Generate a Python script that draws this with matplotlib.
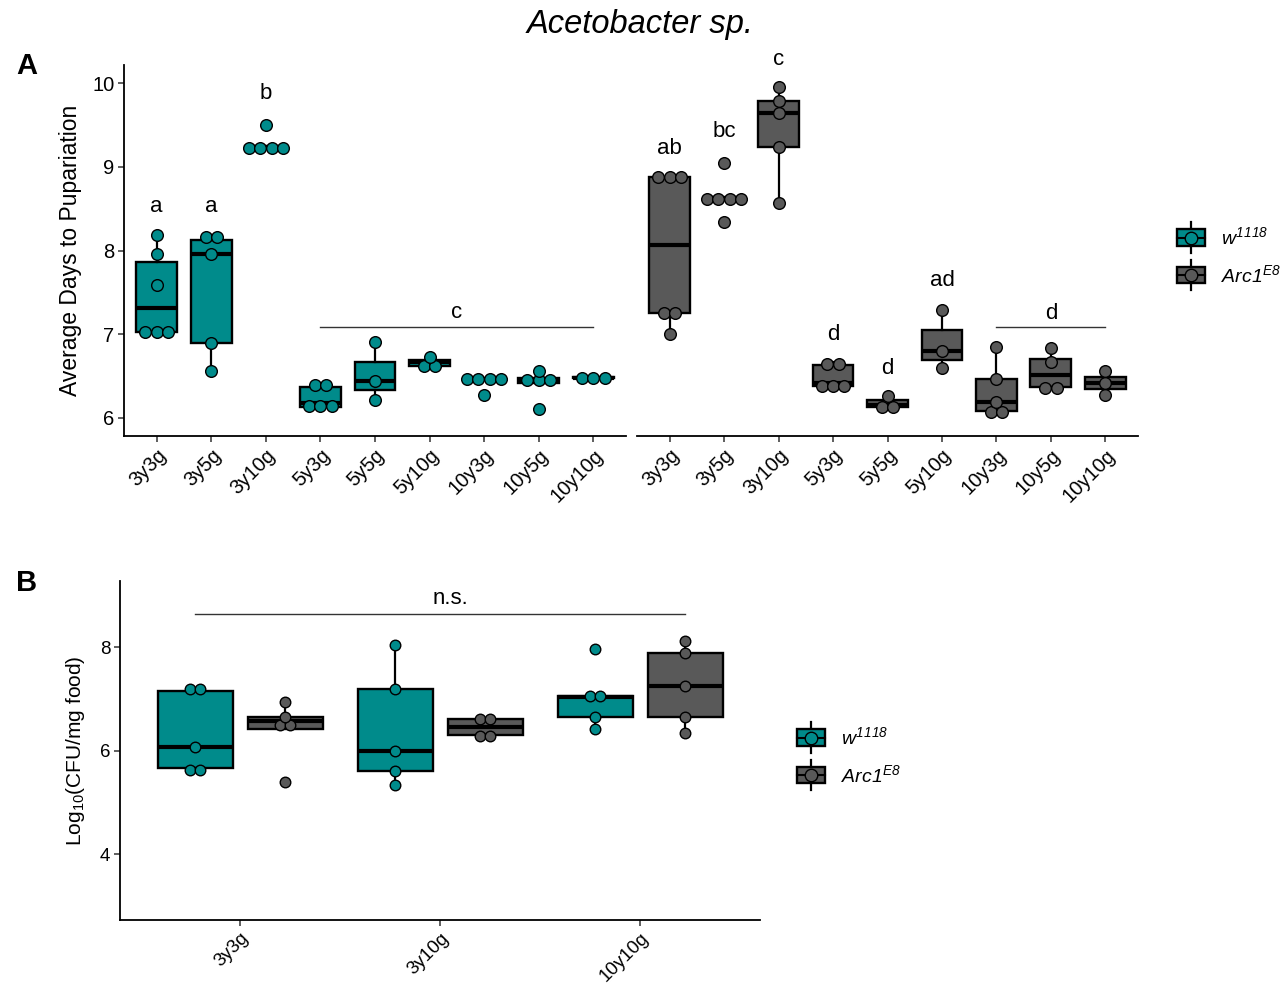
import numpy as np
import matplotlib
matplotlib.use('Agg')
import matplotlib.pyplot as plt
from matplotlib.patches import Patch, Rectangle
from matplotlib.lines import Line2D
from matplotlib.legend_handler import HandlerBase

plt.rcParams['font.family'] = ['Liberation Sans', 'DejaVu Sans']
plt.rcParams['mathtext.fontset'] = 'custom'
# digits in math follow "rm": make it italic for the genotype labels,
# and keep an upright face under "sf" for the log subscript
plt.rcParams['mathtext.rm'] = 'Liberation Sans:italic'
plt.rcParams['mathtext.it'] = 'Liberation Sans:italic'
plt.rcParams['mathtext.sf'] = 'Liberation Sans'

# ---- data ----
groups_a = ['3y3g', '3y5g', '3y10g', '5y3g', '5y5g', '5y10g', '10y3g', '10y5g', '10y10g']

w1118_a = [
    [7.03, 7.03, 7.03, 7.59, 7.96, 8.19],
    [6.56, 6.89, 7.96, 8.13, 8.19],
    [9.20, 9.23, 9.24, 9.25, 9.50],
    [6.10, 6.13, 6.17, 6.37, 6.40],
    [6.21, 6.44, 6.90],
    [6.58, 6.66, 6.72],
    [6.27, 6.45, 6.46, 6.46, 6.47],
    [6.10, 6.41, 6.45, 6.48, 6.56],
    [6.47, 6.48, 6.49],
]
arc1_a = [
    [7.00, 7.24, 7.27, 8.86, 8.88, 8.90],
    [8.34, 8.60, 8.61, 8.62, 8.64, 9.05],
    [8.57, 9.24, 9.64, 9.79, 9.96],
    [6.34, 6.38, 6.41, 6.63, 6.66],
    [6.11, 6.15, 6.26],
    [6.59, 6.80, 7.29],
    [6.05, 6.08, 6.19, 6.46, 6.85],
    [6.34, 6.37, 6.66, 6.83],
    [6.27, 6.41, 6.56],
]
# significance letters (group index, text, y)
letters_w = [(0, 'a', 8.53), (1, 'a', 8.53), (2, 'b', 9.88)]
letters_arc = [(0, 'ab', 9.22), (1, 'bc', 9.42), (2, 'c', 10.28),
               (3, 'd', 6.99), (4, 'd', 6.59), (5, 'ad', 7.64)]
bracket_w = (3, 8, 7.09, 'c', 7.26)
bracket_arc = (6, 8, 7.09, 'd', 7.25)

groups_b = ['3y3g', '3y10g', '10y10g']
w1118_b = [
    [5.60, 5.66, 6.08, 7.15, 7.22],
    [5.34, 5.61, 6.00, 7.19, 8.05],
    [6.42, 6.66, 7.04, 7.06, 7.97],
]
arc1_b = [
    [5.39, 6.43, 6.57, 6.66, 6.95],
    [6.25, 6.31, 6.62, 6.62],
    [6.34, 6.65, 7.25, 7.88, 8.12],
]

TEAL = '#008B8B'
GREY = '#595959'
FS_TICK = 14.5
FS_LET = 16


def dot_layout(values, bw, dx):
    v = sorted(values)
    xs, ys = [], []
    i = 0
    while i < len(v):
        j = i
        while j + 1 < len(v) and v[j + 1] - v[i] <= bw + 1e-9:
            j += 1
        grp = v[i:j + 1]
        c = (grp[0] + grp[-1]) / 2
        n = len(grp)
        for k in range(n):
            xs.append((k - (n - 1) / 2) * dx)
            ys.append(c)
        i = j + 1
    return np.array(xs), np.array(ys)


def draw_boxes(ax, data, positions, color, width, bw, dx, ms):
    ax.boxplot(data, positions=positions, widths=width, patch_artist=True,
               showfliers=False, showcaps=False, whis=1.5, manage_ticks=False,
               boxprops=dict(facecolor=color, edgecolor='black', linewidth=1.7),
               medianprops=dict(color='black', linewidth=3),
               whiskerprops=dict(color='black', linewidth=1.6), zorder=2)
    for p, vals in zip(positions, data):
        xs, ys = dot_layout(vals, bw, dx)
        ax.plot(p + xs, ys, 'o', ms=ms, mfc=color, mec='black', mew=1.0,
                zorder=3, clip_on=False)


def style_axis(ax, show_y=True, size=FS_TICK):
    for s in ['top', 'right']:
        ax.spines[s].set_visible(False)
    ax.spines['bottom'].set_linewidth(1.3)
    ax.spines['left'].set_linewidth(1.3)
    if not show_y:
        ax.spines['left'].set_visible(False)
        ax.tick_params(axis='y', left=False, labelleft=False)
    ax.tick_params(axis='both', length=4, width=1.1, color='#333333',
                   labelsize=size, pad=3)


class BoxKey(HandlerBase):
    def create_artists(self, legend, orig_handle, xdescent, ydescent,
                       width, height, fontsize, trans):
        fc = orig_handle.get_facecolor()
        x0, y0 = -xdescent, -ydescent
        cx, cy = x0 + width / 2, y0 + height / 2
        whisk = Line2D([cx, cx], [cy - height * 0.95, cy + height * 0.95],
                       color='black', lw=1.6, transform=trans)
        rect = Rectangle((x0, cy - height / 2), width, height, facecolor=fc,
                         edgecolor='black', lw=1.7, transform=trans)
        med = Line2D([x0, x0 + width], [cy, cy], color='black', lw=1.5,
                     transform=trans)
        dot = Line2D([cx], [cy], marker='o', ms=9, mfc=fc, mec='black',
                     mew=1.0, transform=trans)
        return [whisk, rect, med, dot]


def add_legend(fig, x, y):
    handles = [Patch(facecolor=TEAL), Patch(facecolor=GREY)]
    labels = [r'$w^{1118}$', r'$Arc1^{E8}$']
    fig.legend(handles, labels, handler_map={Patch: BoxKey()},
               loc='center left', bbox_to_anchor=(x, y), frameon=False,
               fontsize=14, handlelength=1.45, handleheight=0.9,
               handletextpad=0.8, labelspacing=0.8, borderpad=0,
               borderaxespad=0)


W, H = 1283, 984
fig = plt.figure(figsize=(W / 100, H / 100), dpi=100)

ylim_a = (5.78, 10.22)
ax1 = fig.add_axes([124 / W, 1 - 436 / H, (626 - 124) / W, (436 - 65) / H])
ax2 = fig.add_axes([637 / W, 1 - 436 / H, (1138 - 637) / W, (436 - 65) / H])
pos_a = np.arange(1, len(groups_a) + 1)

for ax, data, color, letters, bracket in [
        (ax1, w1118_a, TEAL, letters_w, bracket_w),
        (ax2, arc1_a, GREY, letters_arc, bracket_arc)]:
    draw_boxes(ax, data, pos_a, color, 0.75, 0.085, 0.21, 8.4)
    ax.set_xlim(0.4, len(groups_a) + 0.6)
    ax.set_ylim(*ylim_a)
    ax.set_xticks(pos_a)
    ax.set_xticklabels(groups_a, rotation=45, ha='right', va='top',
                       rotation_mode='anchor')
    for i, t, y in letters:
        ax.text(pos_a[i], y, t, ha='center', va='center', fontsize=FS_LET,
                clip_on=False)
    i0, i1, yl, t, yt = bracket
    ax.plot([pos_a[i0], pos_a[i1]], [yl, yl], color='#333333', lw=1.0)
    ax.text((pos_a[i0] + pos_a[i1]) / 2, yt, t, ha='center', va='center',
            fontsize=FS_LET)

style_axis(ax1)
style_axis(ax2, show_y=False)
ax1.set_yticks([6, 7, 8, 9, 10])
ax1.set_ylabel('Average Days to Pupariation', fontsize=16.5, labelpad=7)

# panel B
ax3 = fig.add_axes([120 / W, 1 - 920 / H, (760 - 120) / W, (920 - 581) / H])
pos_b = np.arange(len(groups_b))
off = 0.225
draw_boxes(ax3, w1118_b, pos_b - off, TEAL, 0.375, 0.15, 0.053, 7.6)
draw_boxes(ax3, arc1_b, pos_b + off, GREY, 0.375, 0.15, 0.053, 7.6)
ax3.set_xlim(-0.6, len(groups_b) - 0.4)
ax3.set_ylim(2.73, 9.28)
ax3.set_yticks([4, 6, 8])
ax3.set_xticks(pos_b)
ax3.set_xticklabels(groups_b, rotation=45, ha='right', va='top',
                    rotation_mode='anchor')
ax3.plot([pos_b[0] - off, pos_b[-1] + off], [8.65, 8.65], color='#333333', lw=1.0)
ax3.text(pos_b[1] + 0.05, 8.94, 'n.s.', ha='center', va='center', fontsize=FS_LET)
style_axis(ax3, size=13.5)
ax3.set_ylabel(r'Log$_{\mathsf{10}}$(CFU/mg food)', fontsize=15, labelpad=9)

add_legend(fig, 1177 / W, 1 - 256 / H)
add_legend(fig, 797 / W, 1 - 756 / H)

fig.text(0.499, 1 - 25 / H, 'Acetobacter sp.', style='italic', fontsize=23.5,
         ha='center', va='center')
fig.text(16 / W, 1 - 66 / H, 'A', fontsize=21, fontweight='bold', va='center')
fig.text(16 / W, 1 - 583 / H, 'B', fontsize=21, fontweight='bold', va='center')

fig.savefig('out.png', dpi=100)
